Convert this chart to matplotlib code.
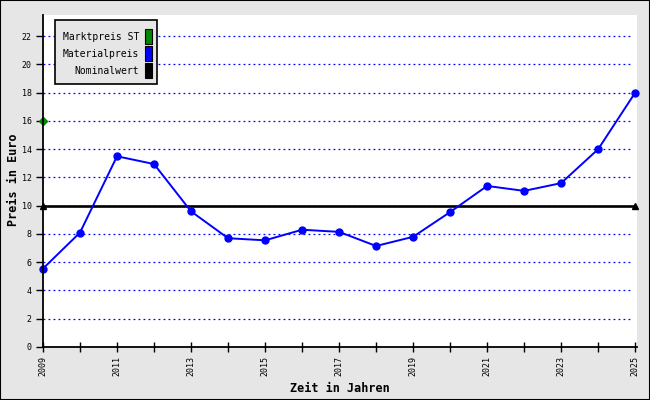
import matplotlib
matplotlib.use("Agg")
import matplotlib.pyplot as plt
from matplotlib.patches import Rectangle

years = list(range(2009, 2026))
materialpreis = [5.55, 8.1, 13.5, 12.95, 9.6, 7.7, 7.55, 8.3, 8.15, 7.15, 7.8, 9.55, 11.4, 11.05, 11.6, 14.0, 18.0]
marktpreis_years = [2009]
marktpreis = [16]
nominal_years = [2009, 2025]
nominalwert = [10, 10]
legend_labels = ["Marktpreis ST", "Materialpreis", "Nominalwert"]
legend_colors = ["#008800", "#0000ff", "#000000"]
ylabel = "Preis in Euro"
xlabel = "Zeit in Jahren"

mono = "DejaVu Sans Mono"
fig = plt.figure(figsize=(6.5, 4), dpi=100, facecolor="#e6e6e6")
fig.patches.append(Rectangle((0, 0), 1, 1, transform=fig.transFigure, fill=False,
                             edgecolor="black", linewidth=1.5, zorder=10))
ax = fig.add_axes([43/650, 1-347/400, (637-43)/650, (347-15)/400])
ax.set_facecolor("white")
ax.set_xlim(2009, 2025.05)
ax.set_ylim(0, 23.5)

for v in range(2, 23, 2):
    ax.plot([2009, 2024.9], [v, v], color="#0000ff", linewidth=0.9,
            linestyle=(0, (1.5, 2.5)), zorder=1)

ax.plot(nominal_years, nominalwert, color="black", linewidth=1.9, zorder=2)
ax.plot(nominal_years, nominalwert, linestyle="none", marker="^", color="black",
        markersize=4.5, zorder=3, clip_on=False)
ax.plot(years, materialpreis, color="#0000ff", linewidth=1.4, marker="o",
        markersize=5, zorder=4, clip_on=False)
ax.plot(marktpreis_years, marktpreis, linestyle="none", marker="D", color="#008800",
        markersize=4, zorder=5, clip_on=False)

for s in ["top", "right"]:
    ax.spines[s].set_visible(False)
for s in ["left", "bottom"]:
    ax.spines[s].set_linewidth(1.3)
    ax.spines[s].set_zorder(6)

ax.set_yticks(range(0, 23, 2))
ax.set_yticklabels([str(v) for v in range(0, 23, 2)], fontfamily=mono, fontsize=6)
ax.set_xticks(years)
ax.set_xticklabels([str(y) if (y - 2009) % 2 == 0 else "" for y in years],
                   fontfamily=mono, fontsize=6, rotation=90)
ax.tick_params(axis="y", direction="out", length=5, width=1, pad=3)
ax.tick_params(axis="x", direction="inout", length=7, width=1, pad=3)

fig.text(14/650, 1-180/400, ylabel, rotation=90, ha="center", va="center",
         fontfamily=mono, fontsize=8.5, fontweight="bold")
fig.text(340/650, 1-388/400, xlabel, ha="center", va="center",
         fontfamily=mono, fontsize=8.5, fontweight="bold")

def fx(px):
    return px/650
def fy(py):
    return 1-py/400
fig.patches.append(Rectangle((fx(55), fy(84)), fx(157)-fx(55), fy(20)-fy(84),
                             transform=fig.transFigure, facecolor="#e6e6e6",
                             edgecolor="black", linewidth=1.2, zorder=20))
rows_y = [37, 54, 71]
for lab, col, yy in zip(legend_labels, legend_colors, rows_y):
    fig.text(fx(139), fy(yy), lab, ha="right", va="center", fontfamily=mono,
             fontsize=7, zorder=21)
    fig.patches.append(Rectangle((fx(145), fy(yy+7)), fx(152)-fx(145), fy(yy-8)-fy(yy+7),
                                 transform=fig.transFigure, facecolor=col,
                                 edgecolor="black", linewidth=0.8, zorder=21))

fig.savefig("out.png", dpi=100, facecolor=fig.get_facecolor())
